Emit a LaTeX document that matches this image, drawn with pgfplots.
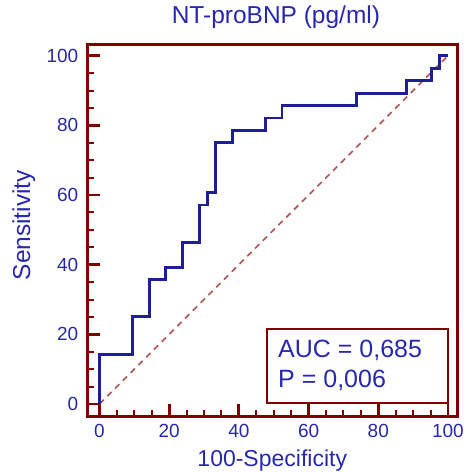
\documentclass[border=0pt]{standalone}
\usepackage{fontspec}
\setmainfont{Liberation Sans}
\usepackage{pgfplots}
\pgfplotsset{compat=1.18}
\definecolor{axiscol}{RGB}{128,0,0}
\definecolor{textblue}{RGB}{40,40,175}
\definecolor{curveblue}{RGB}{30,30,150}
\definecolor{diagcol}{RGB}{180,80,80}
\begin{document}
\begin{tikzpicture}
\begin{axis}[
  scale only axis,
  width=369.5pt, height=371.5pt,
  xmin=-3.45, xmax=102.6, ymin=-3.6, ymax=103.1,
  separate axis lines,
  axis line style={axiscol, line width=3pt, line cap=rect},
  xtick={0,20,...,100}, ytick={0,20,...,100},
  minor tick num=3,
  tick align=inside, xtick pos=bottom, ytick pos=left,
  major tick length=12.5pt, minor tick length=6pt,
  every tick/.style={axiscol},
  every major tick/.append style={line width=2.8pt},
  every minor tick/.append style={line width=2pt},
  /pgf/number format/assume math mode=true,
  tick label style={font=\fontsize{19}{22}\selectfont, text=textblue, inner sep=0pt},
  xticklabel shift=8pt, yticklabel shift=9pt,
  title={NT-proBNP (pg/ml)},
  title style={font=\fontsize{24.5}{27}\selectfont, text=textblue, at={(rel axis cs:0.510,1.043)}, anchor=base, inner sep=0pt},
  xlabel={100-Specificity},
  xlabel style={font=\fontsize{23}{26}\selectfont, text=textblue, at={(rel axis cs:0.5,-0.1346)}, anchor=base, inner sep=0pt},
  ylabel={Sensitivity},
  ylabel style={font=\fontsize{24.5}{27}\selectfont, text=textblue, at={(rel axis cs:-0.1556,0.515)}, anchor=base, rotate=0, inner sep=0pt},
  clip=false,
]
% reference diagonal
\addplot[diagcol, line width=1.6pt, dash pattern=on 6pt off 5pt] coordinates {(0,0) (100,100)};
% ROC curve
\addplot[curveblue, line width=2.9pt, line join=miter] coordinates {
  (0,0) (0,14.29)
  (9.52,14.29) (9.52,25.00)
  (14.29,25.00) (14.29,35.71)
  (19.05,35.71) (19.05,39.29)
  (23.81,39.29) (23.81,46.43)
  (28.57,46.43) (28.57,57.14)
  (30.95,57.14) (30.95,60.71)
  (33.33,60.71) (33.33,75.00)
  (38.10,75.00) (38.10,78.57)
  (47.62,78.57) (47.62,82.14)
  (52.38,82.14) (52.38,85.71)
  (73.81,85.71) (73.81,89.29)
  (88.10,89.29) (88.10,92.86)
  (95.24,92.86) (95.24,96.43)
  (97.62,96.43) (97.62,100)
  (100,100)
};
\draw[axiscol, line width=1.5pt] (rel axis cs:0.4858,0.0363) rectangle (rel axis cs:0.9756,0.2355);
\node[anchor=base west, inner sep=0pt, text=textblue, font=\fontsize{25}{28}\selectfont] at (rel axis cs:0.5156,0.160) {AUC = 0,685};
\node[anchor=base west, inner sep=0pt, text=textblue, font=\fontsize{25}{28}\selectfont] at (rel axis cs:0.5156,0.0794) {P = 0,006};
\end{axis}
\pgfresetboundingbox
\path ([shift={(-87.5pt,-56.5pt)}]current axis.south west) rectangle ([shift={(8pt,45pt)}]current axis.north east);
\end{tikzpicture}
\end{document}
